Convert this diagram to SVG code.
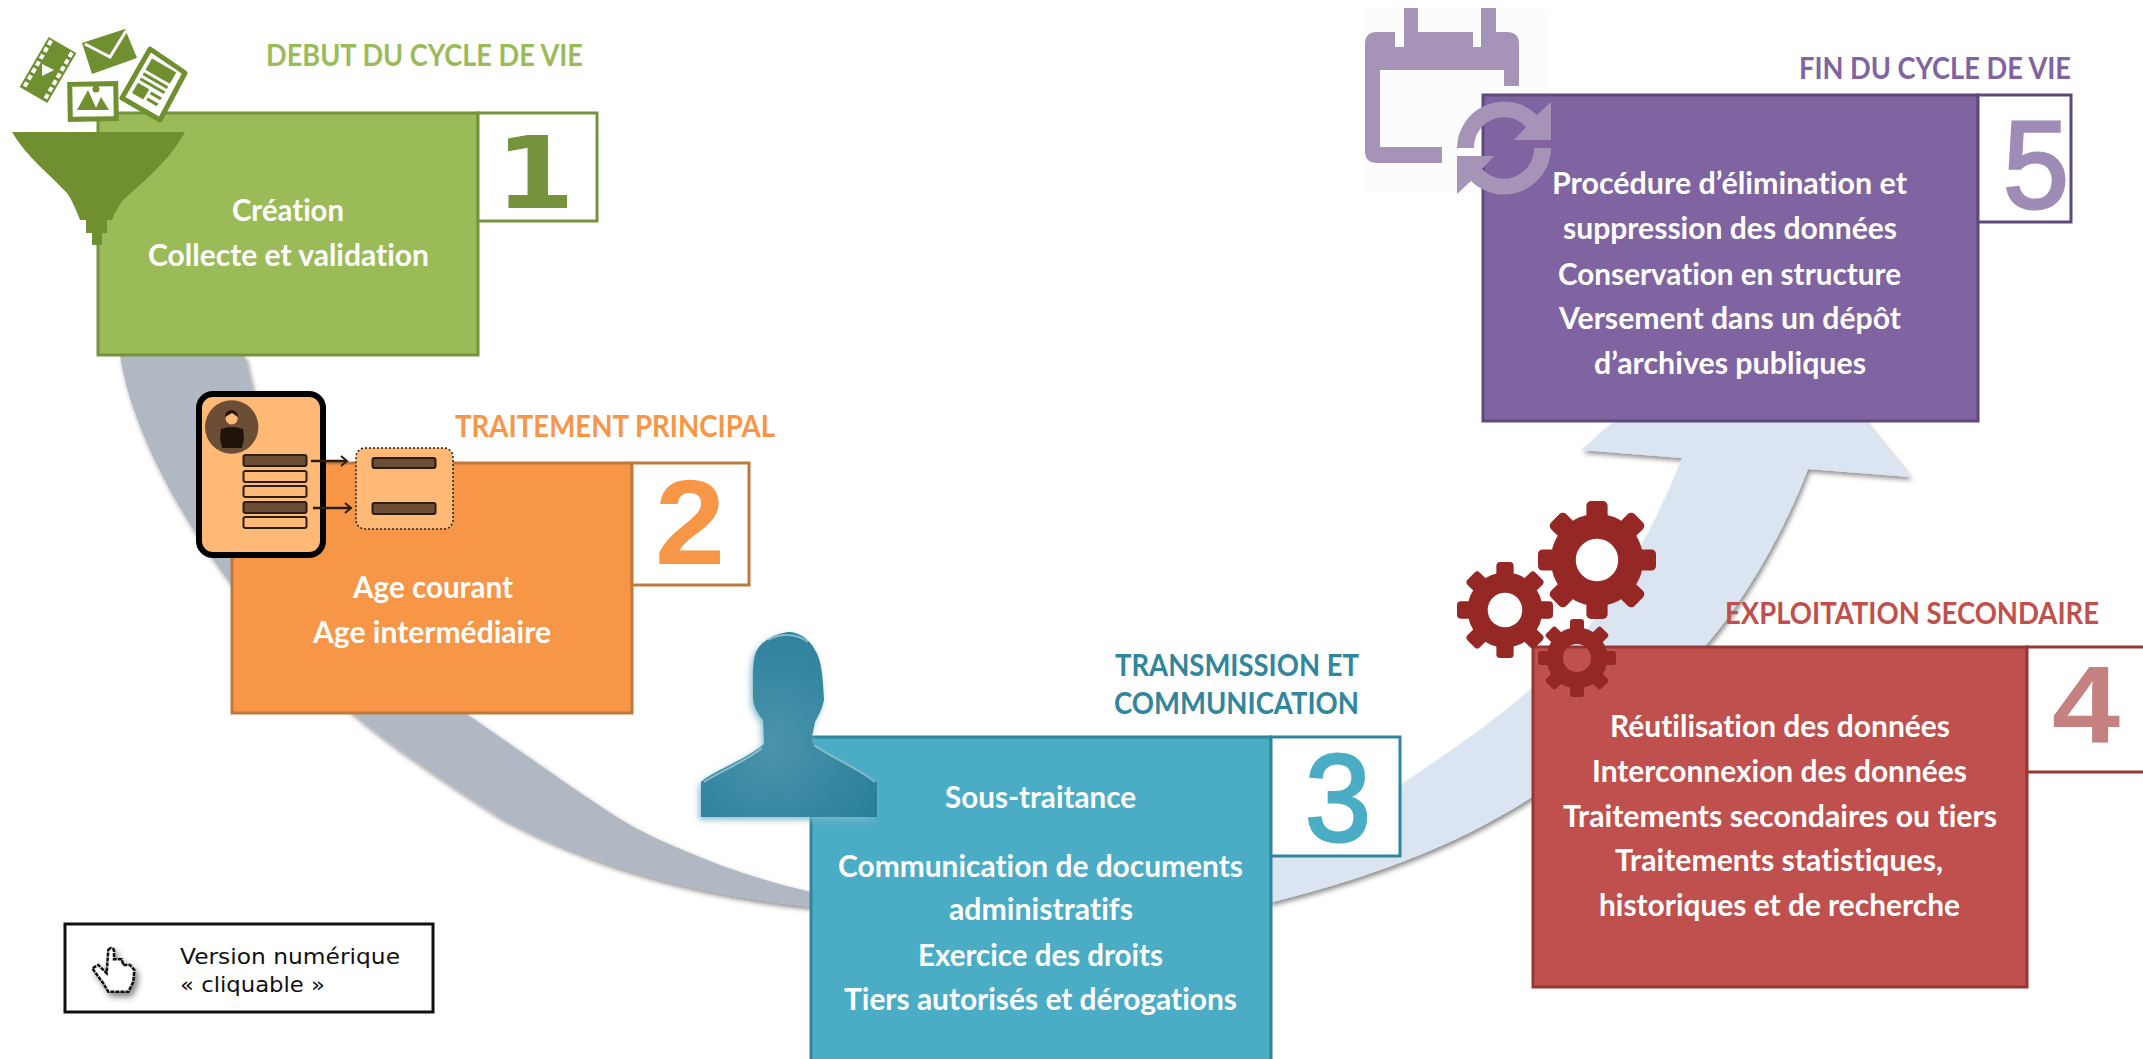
<svg xmlns="http://www.w3.org/2000/svg" width="2143" height="1059" viewBox="0 0 2143 1059">
<style>
text{font-family:"Lato","Liberation Sans",sans-serif;font-weight:700;font-variant-ligatures:none}
.t{fill:#fff;font-size:30px;transform:translateY(1.5px)}
.l{font-size:30px;transform:translateY(1.5px)}
.n{font-family:"Liberation Sans",sans-serif;font-size:120px}
.box{stroke-width:3}
.num{fill:#fff;stroke-width:3}
.leg{font-family:"DejaVu Sans",sans-serif;font-weight:400;font-size:22px;fill:#111}
.row{stroke:#2b1d10;stroke-width:2}
.dark{fill:#6b4e35}
.light{fill:#ffb976}
.fg{fill:#6f8f30}
.pu{fill:#a593b8}
</style>
<defs>
<filter id="sh" x="-10%" y="-10%" width="120%" height="120%"><feDropShadow dx="2" dy="3" stdDeviation="2.5" flood-color="#000" flood-opacity=".45"/></filter>
<filter id="sh2" x="-20%" y="-20%" width="150%" height="150%"><feDropShadow dx="3" dy="4" stdDeviation="3" flood-color="#000" flood-opacity=".5"/></filter>
<filter id="glow" x="-10%" y="-10%" width="120%" height="120%"><feDropShadow dx="-2" dy="3" stdDeviation="3" flood-color="#7fb6c8" flood-opacity=".9"/></filter>
<radialGradient id="pg" cx=".4" cy=".6" r=".7"><stop offset="0" stop-color="#4a93ab"/><stop offset="1" stop-color="#2a7f9b"/></radialGradient>
<marker id="ah" markerWidth="10" markerHeight="12" refX="8" refY="6" orient="auto" markerUnits="userSpaceOnUse"><path d="M2 1 L8 6 L2 11" fill="none" stroke="#2b1d10" stroke-width="2"/></marker>
<g id="gear">
<circle r="57" fill="none" stroke="#952725" stroke-width="42"/>
<rect x="-18" y="-100" width="36" height="32" rx="8"/>
<rect x="-18" y="-100" width="36" height="32" rx="8" transform="rotate(45)"/>
<rect x="-18" y="-100" width="36" height="32" rx="8" transform="rotate(90)"/>
<rect x="-18" y="-100" width="36" height="32" rx="8" transform="rotate(135)"/>
<rect x="-18" y="-100" width="36" height="32" rx="8" transform="rotate(180)"/>
<rect x="-18" y="-100" width="36" height="32" rx="8" transform="rotate(225)"/>
<rect x="-18" y="-100" width="36" height="32" rx="8" transform="rotate(270)"/>
<rect x="-18" y="-100" width="36" height="32" rx="8" transform="rotate(315)"/>
</g>
</defs>
<rect width="2143" height="1059" fill="#fff"/>

<g id="connectors">
<path id="arc-grey" filter="url(#sh)" fill="#b0b8c3" d="M120 356 C140 480 260 640 355 715 C390 745 450 785 500 817 C600 870 700 895 812 907 L812 892 C780 885 730 870 700 857 C670 845 640 832 617 817 C590 800 560 779 533 760 C511 745 490 730 468 715 C420 680 280 540 245 356 Z"/>
<path id="arc-blue" filter="url(#sh)" fill="#dbe5f1" d="M1269 903 C1360 880 1450 850 1532 797 C1610 745 1670 685 1706 645 C1745 600 1785 530 1808 469 L1910 477 L1761 293 L1581 450 L1682 458 C1668 495 1650 530 1644 540 C1615 595 1580 645 1532 688 C1490 725 1445 755 1400 785 C1360 810 1310 832 1269 850 Z"/>
</g>

<rect x="1365" y="9" width="185" height="184" fill="#fcfcfc"/>

<g id="node-1">
<rect class="box" x="98" y="113" width="380" height="242" fill="#9bbb59" stroke="#76923c"/>
<rect class="num" x="478" y="113" width="119" height="108" stroke="#76923c"/>
<text x="495" y="208" textLength="80" lengthAdjust="spacingAndGlyphs" style="font-family:'DejaVu Sans',sans-serif;font-size:100px" fill="#76923c">1</text>
<text class="l" x="266" y="64" fill="#9bbb59" textLength="317" lengthAdjust="spacingAndGlyphs">DEBUT DU CYCLE DE VIE</text>
<text class="t" x="232" y="219" textLength="112" lengthAdjust="spacingAndGlyphs">Création</text>
<text class="t" x="148" y="264" textLength="281" lengthAdjust="spacingAndGlyphs">Collecte et validation</text>
<g id="icons-1">
<path class="fg" d="M12 132 H185 C170 160 140 185 123 200 C118 207 114 214 112 220 H107 V233 H102 V245 H92 V233 H86 V220 H80 C77 212 72 200 67 193 C50 175 25 155 12 132 Z"/>
<g transform="translate(48 70) rotate(30)">
<rect class="fg" x="-16" y="-29" width="32" height="58"/>
<line x1="-12" x2="-12" y1="-27" y2="28" stroke="#fff" stroke-width="4" stroke-dasharray="5 3"/>
<line x1="12" x2="12" y1="-27" y2="28" stroke="#fff" stroke-width="4" stroke-dasharray="5 3"/>
<path d="M-6 -6 L6 0 L-6 6 Z" fill="#fff" transform="rotate(-30)"/>
</g>
<path class="fg" d="M82 43 L125 29 L137 58 L92 74 Z"/>
<path d="M85 44 L110 57 L126 31" fill="none" stroke="#fff" stroke-width="3"/>
<rect x="70" y="84" width="46" height="35" fill="#fff" stroke="#6f8f30" stroke-width="5" transform="rotate(-1 93 101)"/>
<path class="fg" d="M77 110 L88 90 L97 110 Z M95 110 L101 97 L109 110 Z"/>
<circle class="fg" cx="96" cy="89" r="3.5"/>
<path d="M150 49 L178 68 L185 73 L160 120 L122 98 Z" fill="#fff" stroke="#6f8f30" stroke-width="5" stroke-linejoin="round"/>
<g class="fg" transform="translate(154 85) rotate(30)">
<rect x="-15" y="-22" width="28" height="13"/>
<rect x="-15" y="-6" width="28" height="3"/>
<rect x="-15" y="0" width="28" height="3"/>
<rect x="-15" y="6" width="13" height="12"/>
<rect x="1" y="7" width="12" height="3"/>
<rect x="1" y="14" width="12" height="3"/>
</g>
</g>
</g>

<g id="node-2">
<rect class="box" x="232" y="463" width="400" height="250" fill="#f79646" stroke="#be7a3e"/>
<rect class="num" x="632" y="463" width="117" height="122" stroke="#be7a3e"/>
<text class="n" x="655" y="564" fill="#f79646" textLength="70" lengthAdjust="spacingAndGlyphs">2</text>
<text class="l" x="455" y="435" fill="#f79646" textLength="320" lengthAdjust="spacingAndGlyphs">TRAITEMENT PRINCIPAL</text>
<text class="t" x="353" y="596" textLength="160" lengthAdjust="spacingAndGlyphs">Age courant</text>
<text class="t" x="313" y="641" textLength="238" lengthAdjust="spacingAndGlyphs">Age intermédiaire</text>
<g id="card">
<rect x="199" y="394" width="124" height="161" rx="14" class="light" stroke="#000" stroke-width="6"/>
<circle cx="231.700" cy="427" r="26.700" class="dark"/>
<circle cx="231.700" cy="418.500" r="6" fill="#ffb976"/>
<path d="M225 417 C225 408 238 408 238 417 L232 413 Z" fill="#1e140c"/>
<path d="M221 429 Q232 425 243 429 L244 438 L242 448 H222 L220 438 Z" fill="#1e140c"/>
<rect class="row dark" x="243.500" y="455" width="63" height="11" rx="2"/>
<rect class="row light" x="243.500" y="471" width="63" height="11" rx="2"/>
<rect class="row light" x="243.500" y="486" width="63" height="11" rx="2"/>
<rect class="row dark" x="243.500" y="502" width="63" height="11" rx="2"/>
<rect class="row light" x="243.500" y="517" width="63" height="11" rx="2"/>
<rect x="356" y="448" width="97" height="81" rx="9" class="light" stroke="#222" stroke-width="1.500" stroke-dasharray="2 2"/>
<rect class="row dark" x="372.500" y="458" width="63" height="10" rx="2"/>
<rect class="row dark" x="372.500" y="503" width="63" height="11" rx="2"/>
<path d="M311 461 H347" stroke="#2b1d10" stroke-width="2.500" fill="none" marker-end="url(#ah)"/>
<path d="M313 508 H351" stroke="#2b1d10" stroke-width="2.500" fill="none" marker-end="url(#ah)"/>
</g>
</g>

<g id="node-3">
<rect class="box" x="811" y="737" width="460" height="330" fill="#4bacc6" stroke="#31859c"/>
<rect class="num" x="1271" y="737" width="129" height="119" stroke="#31859c"/>
<text class="n" x="1305" y="841" fill="#4bacc6" textLength="66" lengthAdjust="spacingAndGlyphs" style="font-size:125px;font-weight:400;stroke:#4bacc6;stroke-width:3px">3</text>
<text class="l" x="1115" y="674" fill="#31859c" textLength="244" lengthAdjust="spacingAndGlyphs">TRANSMISSION ET</text>
<text class="l" x="1114" y="712" fill="#31859c" textLength="245" lengthAdjust="spacingAndGlyphs">COMMUNICATION</text>
<text class="t" x="945" y="806" textLength="191" lengthAdjust="spacingAndGlyphs">Sous-traitance</text>
<text class="t" x="838" y="875" textLength="405" lengthAdjust="spacingAndGlyphs">Communication de documents</text>
<text class="t" x="949" y="918" textLength="184" lengthAdjust="spacingAndGlyphs">administratifs</text>
<text class="t" x="918" y="964" textLength="245" lengthAdjust="spacingAndGlyphs">Exercice des droits</text>
<text class="t" x="844" y="1008" textLength="393" lengthAdjust="spacingAndGlyphs">Tiers autorisés et dérogations</text>
<g id="person">
<path filter="url(#glow)" fill="url(#pg)" d="M788 632 C800 632 810 640 815 650 C822 660 823 680 824 700 C822 710 818 716 815 722 L811 742 C830 756 860 768 877 782 V817 H701 V782 C715 770 745 760 764 744 L763 720 C756 712 753 704 753 697 C753 680 752 662 756 652 C762 640 775 634 788 632 Z"/>
<path d="M704 782 C718 772 745 762 762 748 M814 745 C832 758 858 768 875 782 M768 640 C778 634 795 632 808 642" fill="none" stroke="#a9d3de" stroke-width="2" opacity=".7"/>
</g>
</g>

<g id="node-4">
<rect class="box" x="1533" y="647" width="494" height="340" fill="#c0504d" stroke="#953735"/>
<rect class="num" x="2027" y="647" width="125" height="125" stroke="#953735"/>
<text class="n" x="2052" y="742" fill="#c58080" textLength="68" lengthAdjust="spacingAndGlyphs" style="font-size:110px">4</text>
<text class="l" x="1725" y="622" fill="#c0504d" textLength="374" lengthAdjust="spacingAndGlyphs">EXPLOITATION SECONDAIRE</text>
<text class="t" x="1610" y="735" textLength="340" lengthAdjust="spacingAndGlyphs">Réutilisation des données</text>
<text class="t" x="1592" y="780" textLength="375" lengthAdjust="spacingAndGlyphs">Interconnexion des données</text>
<text class="t" x="1563" y="825" textLength="434" lengthAdjust="spacingAndGlyphs">Traitements secondaires ou tiers</text>
<text class="t" x="1615" y="869" textLength="328" lengthAdjust="spacingAndGlyphs">Traitements statistiques,</text>
<text class="t" x="1599" y="914" textLength="361" lengthAdjust="spacingAndGlyphs">historiques et de recherche</text>
<g id="gears" fill="#952725">
<use href="#gear" transform="translate(1597 560) scale(.59)"/>
<use href="#gear" transform="translate(1505 610) scale(.48)"/>
<use href="#gear" transform="translate(1577 658) scale(.39)"/>
</g>
</g>

<g id="node-5">
<rect class="box" x="1483" y="95" width="495" height="326" fill="#8064a2" stroke="#5f497a"/>
<rect class="num" x="1978" y="95" width="93" height="127" stroke="#5f497a"/>
<text class="n" x="2003" y="208" fill="#9e8bb6" textLength="66" lengthAdjust="spacingAndGlyphs" style="font-size:125px;font-weight:400;stroke:#9e8bb6;stroke-width:3px">5</text>
<text class="l" x="1799" y="77" fill="#8064a2" textLength="272" lengthAdjust="spacingAndGlyphs">FIN DU CYCLE DE VIE</text>
<text class="t" x="1552" y="192" textLength="355" lengthAdjust="spacingAndGlyphs">Procédure d’élimination et</text>
<text class="t" x="1563" y="237" textLength="334" lengthAdjust="spacingAndGlyphs">suppression des données</text>
<text class="t" x="1558" y="283" textLength="343" lengthAdjust="spacingAndGlyphs">Conservation en structure</text>
<text class="t" x="1559" y="327" textLength="342" lengthAdjust="spacingAndGlyphs">Versement dans un dépôt</text>
<text class="t" x="1594" y="372" textLength="272" lengthAdjust="spacingAndGlyphs">d’archives publiques</text>
<g id="icons-5">
<path class="pu" d="M1404 8 H1418 V32 H1473 V47 H1481 V8 H1496 V32 H1507 Q1519 32 1519 44 V86 H1504 V70 H1380 V147 H1442 V163 H1377 Q1365 163 1365 151 V44 Q1365 32 1377 32 H1395 V47 H1404 Z"/>
<path class="pu" d="M1457 148 A47 47 0 0 1 1537 115 L1551 102 V140 H1514 L1526 127 A30 30 0 0 0 1474 148 Z"/>
<path class="pu" transform="rotate(180 1504 148)" d="M1457 148 A47 47 0 0 1 1537 115 L1551 102 V140 H1514 L1526 127 A30 30 0 0 0 1474 148 Z"/>
</g>
</g>

<g id="legend">
<rect x="65" y="924" width="368" height="88" fill="#fff" stroke="#111" stroke-width="3"/>
<path filter="url(#sh2)" d="M108.300 950 Q111 946 114 950 V959.300 H121.700 L123.300 965 H130 L134.300 970 L133.300 981.700 L128.300 991.700 H108.300 L103.300 983.300 L92.300 968.300 L98.300 965 L106.700 973.300 Z" fill="#fff" stroke="#111" stroke-width="2.500" stroke-dasharray="4 1"/>
<text class="leg" x="180" y="964" textLength="220" lengthAdjust="spacingAndGlyphs">Version numérique</text>
<text class="leg" x="180" y="992" textLength="145" lengthAdjust="spacingAndGlyphs">« cliquable »</text>
</g>
</svg>
